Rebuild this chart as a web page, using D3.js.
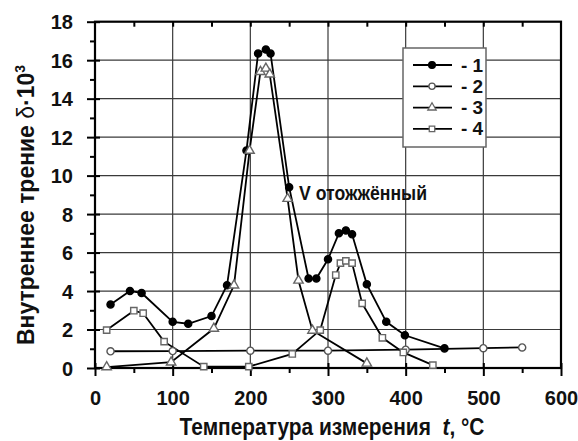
<!DOCTYPE html>
<html>
<head>
<meta charset="utf-8">
<script src="https://cdn.jsdelivr.net/npm/d3@7"></script>
<style>
  html, body { margin: 0; padding: 0; background: #fff; }
  svg { display: block; }
  text { font-family: "Liberation Sans", Arial, sans-serif; font-weight: bold; fill: #111; }
</style>
</head>
<body>
<svg id="chart" width="578" height="441"></svg>
<script>
// ---- data ----
const xTickValues = [0, 100, 200, 300, 400, 500, 600];
const yTickValues = [0, 2, 4, 6, 8, 10, 12, 14, 16, 18];
const seriesNames = ["- 1", "- 2", "- 3", "- 4"];

const s1T = [20, 45, 60, 100, 120, 150, 170, 195, 210, 220, 226, 250, 275, 285, 300, 314, 323, 331, 350, 375, 399, 450];
const s1V = [3.3, 4.0, 3.9, 2.4, 2.3, 2.7, 4.3, 11.3, 16.35, 16.55, 16.35, 9.4, 4.65, 4.65, 5.65, 7.0, 7.15, 6.95, 4.35, 2.4, 1.7, 1.02];

const s2T = [20, 100, 200, 300, 400, 500, 550];
const s2V = [0.87, 0.88, 0.9, 0.9, 0.95, 1.03, 1.07];

const s3T = [15, 98, 153, 179, 199, 213, 220, 225, 248, 262, 280, 350];
const s3V = [0.05, 0.3, 2.05, 4.3, 11.3, 15.4, 15.57, 15.27, 8.8, 4.55, 1.95, 0.24];

const s4T = [15, 50, 62, 89, 140, 198, 254, 290, 310, 316, 323, 331, 344, 370, 397, 435];
const s4V = [1.97, 2.98, 2.85, 1.37, 0.07, 0.07, 0.73, 1.97, 4.83, 5.45, 5.57, 5.45, 3.36, 1.57, 0.81, 0.15];

// ---- layout ----
const svg = d3.select("#chart");
const L = 95, R = 561, T = 21.7, B = 368;
const x = d3.scaleLinear().domain([0, 600]).range([L, R]);
const y = d3.scaleLinear().domain([0, 18]).range([B, T]);

// grid
const grid = svg.append("g");
grid.selectAll("line.gx").data(xTickValues.slice(1, -1)).enter().append("line")
  .attr("x1", d => x(d)).attr("x2", d => x(d)).attr("y1", T).attr("y2", B)
  .attr("stroke", "#3a3a3a").attr("stroke-width", 1.2);
grid.selectAll("line.gy").data(yTickValues.slice(1, -1)).enter().append("line")
  .attr("x1", L).attr("x2", R).attr("y1", d => y(d)).attr("y2", d => y(d))
  .attr("stroke", "#3a3a3a").attr("stroke-width", 1.2);

// axes
const xAxis = d3.axisBottom(x).tickValues(xTickValues).tickSize(8).tickFormat(d3.format("d"));
const gx = svg.append("g").attr("transform", `translate(0,${B})`).call(xAxis);
gx.select(".domain").remove();
gx.selectAll(".tick line").attr("stroke", "#000").attr("stroke-width", 2).attr("y1", -5);
gx.selectAll(".tick text").attr("y", 0).attr("dy", null).attr("transform", "translate(0,37)")
  .style("font-size", "20px").style("font-family", "Liberation Sans, Arial").style("font-weight", "bold").attr("fill", "#111");

const xMinor = d3.axisBottom(x).tickValues([50, 150, 250, 350, 450, 550]).tickSize(5).tickFormat("");
const gxm = svg.append("g").attr("transform", `translate(0,${B})`).call(xMinor);
gxm.select(".domain").remove();
gxm.selectAll(".tick line").attr("stroke", "#000").attr("stroke-width", 2);

const yAxis = d3.axisLeft(y).tickValues(yTickValues).tickSize(8).tickFormat(d3.format("d"));
const gy = svg.append("g").attr("transform", `translate(${L},0)`).call(yAxis);
gy.select(".domain").remove();
gy.selectAll(".tick line").attr("stroke", "#000").attr("stroke-width", 2).attr("x2", 5).attr("x1", -8);
gy.selectAll(".tick text").attr("x", -22).attr("dy", "0.36em")
  .style("font-size", "20px").style("font-family", "Liberation Sans, Arial").style("font-weight", "bold").attr("fill", "#111");

const yMinor = d3.axisLeft(y).tickValues([1, 3, 5, 7, 9, 11, 13, 15, 17]).tickSize(5).tickFormat("");
const gym = svg.append("g").attr("transform", `translate(${L},0)`).call(yMinor);
gym.select(".domain").remove();
gym.selectAll(".tick line").attr("stroke", "#000").attr("stroke-width", 2);

const xTop = d3.axisTop(x).tickValues([50, 100, 150, 200, 250, 300, 350, 400, 450, 500, 550]).tickSize(-5).tickFormat("");
const gt = svg.append("g").attr("transform", `translate(0,${T})`).call(xTop);
gt.select(".domain").remove();
gt.selectAll(".tick line").attr("stroke", "#000").attr("stroke-width", 2);

svg.append("rect").attr("x", L).attr("y", T).attr("width", R - L).attr("height", B - T)
  .attr("fill", "none").attr("stroke", "#000").attr("stroke-width", 2.2);

// ---- series ----
const line = d3.line().x(d => x(d[0])).y(d => y(d[1]));
const series = [
  { t: s1T, v: s1V, sym: d3.symbolCircle, size: 40, fill: "#000", stroke: "#000" },
  { t: s2T, v: s2V, sym: d3.symbolCircle, size: 40, fill: "#fff", stroke: "#555" },
  { t: s3T, v: s3V, sym: d3.symbolTriangle, size: 38, fill: "#fff", stroke: "#666" },
  { t: s4T, v: s4V, sym: d3.symbolSquare, size: 40, fill: "#fff", stroke: "#666" }
];
series.forEach(s => {
  const pts = s.t.map((t, i) => [t, s.v[i]]);
  svg.append("path").datum(pts).attr("d", line)
    .attr("fill", "none").attr("stroke", "#000").attr("stroke-width", 1.8);
});
series.forEach(s => {
  const pts = s.t.map((t, i) => [t, s.v[i]]);
  svg.append("g").selectAll("path").data(pts).enter().append("path")
    .attr("transform", d => `translate(${x(d[0])},${y(d[1])})`)
    .attr("d", d3.symbol().type(s.sym).size(s.size))
    .attr("fill", s.fill).attr("stroke", s.stroke).attr("stroke-width", 1.4);
});

// ---- legend ----
const lg = svg.append("g");
lg.append("rect").attr("x", 403).attr("y", 48).attr("width", 83).attr("height", 99)
  .attr("fill", "#fff").attr("stroke", "#666").attr("stroke-width", 1.5);
series.forEach((s, i) => {
  const cy = 65 + i * 21.3;
  lg.append("line").attr("x1", 413).attr("x2", 452).attr("y1", cy).attr("y2", cy)
    .attr("stroke", "#000").attr("stroke-width", 1.8);
  lg.append("path").attr("transform", `translate(432,${cy})`)
    .attr("d", d3.symbol().type(s.sym).size(i === 0 ? 36 : 30))
    .attr("fill", s.fill).attr("stroke", s.stroke).attr("stroke-width", 1.3);
  lg.append("text").attr("x", 461).attr("y", cy + 6.5).style("font-size", "19px").text(seriesNames[i]);
});

// ---- annotation ----
svg.append("text").attr("x", 299).attr("y", 200).style("font-size", "21px")
  .attr("textLength", 128).attr("lengthAdjust", "spacingAndGlyphs").text("V отожжённый");

// ---- axis titles (horizontally condensed via scale) ----
function fitText(g, targetWidth) {
  const t = g.select("text");
  const w = t.node().getComputedTextLength();
  t.attr("transform", `scale(${targetWidth / w},1)`);
}
const xtg = svg.append("g").attr("transform", "translate(332,435)");
const xt = xtg.append("text").attr("text-anchor", "middle").style("font-size", "23px");
xt.append("tspan").text("Температура измерения\u00a0\u00a0");
xt.append("tspan").style("font-style", "italic").text("t");
xt.append("tspan").text(", °C");
fitText(xtg, 305);

const ytg = svg.append("g").attr("transform", "translate(34,205) rotate(-90)");
const yt = ytg.append("text").attr("text-anchor", "middle").style("font-size", "23px");
yt.append("tspan").text("Внутреннее трение ");
yt.append("tspan").style("font-weight", "normal").text("δ");
yt.append("tspan").text("·10");
yt.append("tspan").attr("dy", -9).style("font-size", "14px").text("3");
fitText(ytg, 280);
</script>
</body>
</html>
